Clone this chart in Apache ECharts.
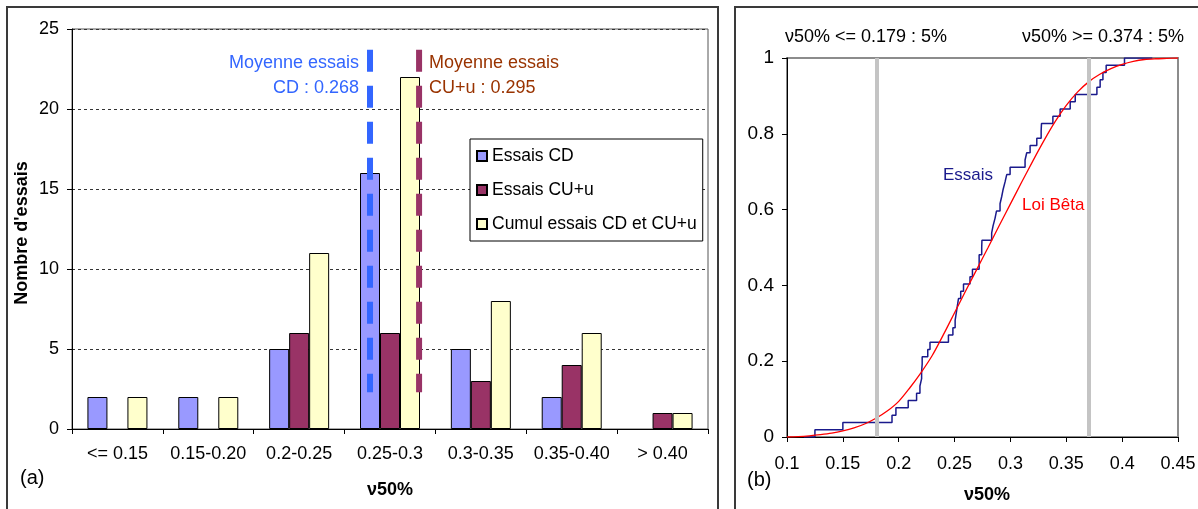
<!DOCTYPE html>
<html><head><meta charset="utf-8">
<script src="https://cdn.jsdelivr.net/npm/echarts@6/dist/echarts.min.js"></script>
<style>html,body{margin:0;padding:0;background:#fff}#c{width:1198px;height:509px}</style>
</head><body><div id="c"></div>
<script>
// ---- Panel (a) data ----
const categories = ['<= 0.15','0.15-0.20','0.2-0.25','0.25-0.3','0.3-0.35','0.35-0.40','> 0.40'];
const essaisCD = [2, 2, 5, 16, 5, 2, 0];
const essaisCU = [0, 0, 6, 6, 3, 4, 1];
const cumul = [2, 2, 11, 22, 8, 6, 1];
const meanCD = 0.268;
const meanCU = 0.295;
const meanLineSpan = [23.7, 2.3];
const yTicksA = [0, 5, 10, 15, 20, 25];

// ---- Panel (b) data ----
const essaisValues = [0.125,0.150,0.194,0.1975,0.2085,0.216,0.219,0.2205,0.2205,0.221,0.221,0.226,0.228,
  0.2445,0.2485,0.2505,0.2515,0.2525,0.2535,0.2555,0.258,0.2638,0.266,0.272,0.272,0.2743,0.2745,
  0.2832,0.2845,0.2862,0.2875,0.2907,0.2922,0.2935,0.2952,0.2967,0.2997,0.3131,0.3146,0.3176,
  0.3236,0.3275,0.3278,0.338,0.3445,0.3535,0.358,0.3774,0.3803,0.3828,0.3857,0.4021];
const ecdfStart = 0.115;
const ecdfEnd = 0.427;
const betaX = [0.10,0.11,0.12,0.13,0.14,0.15,0.16,0.17,0.18,0.19,0.20,0.21,0.22,0.23,0.24,0.25,0.26,0.27,0.28,0.29,0.30,0.31,0.32,0.33,0.34,0.35,0.36,0.37,0.38,0.39,0.40,0.41,0.42,0.43,0.44,0.45];
const betaY = [0,0.001,0.003,0.006,0.010,0.016,0.024,0.035,0.050,0.069,0.094,0.130,0.170,0.215,0.270,0.328,0.386,0.443,0.500,0.558,0.615,0.672,0.728,0.782,0.832,0.875,0.910,0.937,0.957,0.972,0.983,0.991,0.996,0.998,0.999,1.0];
const quantiles = [0.179, 0.374];
const quantileLabels = ['ν50% <= 0.179 : 5%', 'ν50% >= 0.374 : 5%'];

const FONT = "'Liberation Sans', Arial, sans-serif";
const N = essaisValues.length;
const ecdf = [[ecdfStart, 0]].concat(essaisValues.map((v, i) => [v, (i + 1) / N])).concat([[ecdfEnd, 1]]);
const beta = betaX.map((x, i) => [x, betaY[i]]);
const nz = a => a.map(v => v === 0 ? '-' : v);

const chart = echarts.init(document.getElementById('c'), null, {renderer: 'canvas'});
const barBase = {type: 'bar', xAxisIndex: 0, yAxisIndex: 0, barWidth: 20, barGap: '0%', z: 2};

chart.setOption({
  animation: false,
  textStyle: {fontFamily: FONT},
  grid: [
    {left: 72, top: 29, width: 636, height: 400, containLabel: false, outerBoundsMode: 'none',
     show: true, borderColor: '#555', borderWidth: 1},
    {left: 787, top: 58, width: 391, height: 379, containLabel: false, outerBoundsMode: 'none',
     show: true, borderColor: '#8c8c8c', borderWidth: 2}
  ],
  legend: {
    data: ['Essais CD', 'Essais CU+u', 'Cumul essais CD et CU+u'],
    orient: 'vertical', left: 470, top: 139,
    backgroundColor: '#fff', borderColor: '#000', borderWidth: 1,
    padding: [8, 6, 8, 6], itemGap: 16, itemWidth: 10, itemHeight: 10, itemTextGap: 7,
    icon: 'rect',
    textStyle: {fontSize: 17.5, lineHeight: 16, color: '#000', fontFamily: FONT}
  },
  xAxis: [
    {type: 'category', gridIndex: 0, data: categories, boundaryGap: true,
     axisLine: {lineStyle: {color: '#000', width: 1}},
     axisTick: {show: true, alignWithLabel: false, length: 5, lineStyle: {color: '#000'}},
     axisLabel: {interval: 0, fontSize: 18, color: '#000', margin: 16, fontFamily: FONT}},
    {type: 'value', gridIndex: 0, min: 0.104, max: 0.454, show: false},
    {type: 'value', gridIndex: 1, min: 0.1, max: 0.45, interval: 0.05,
     axisLine: {onZero: false, lineStyle: {color: '#000', width: 1}},
     axisTick: {show: true, length: 5, lineStyle: {color: '#000'}},
     splitLine: {show: false},
     axisLabel: {fontSize: 18, color: '#000', margin: 18, fontFamily: FONT}}
  ],
  yAxis: [
    {type: 'value', gridIndex: 0, min: 0, max: 25, interval: 5,
     axisLine: {show: true, lineStyle: {color: '#000', width: 1}},
     axisTick: {show: true, length: 5, lineStyle: {color: '#000'}},
     axisLabel: {fontSize: 18, color: '#000', margin: 13, fontFamily: FONT},
     splitLine: {show: true, lineStyle: {color: '#333', type: [3, 3], width: 1}}},
    {type: 'value', gridIndex: 1, min: 0, max: 1, interval: 0.2,
     axisLine: {show: true, onZero: false, lineStyle: {color: '#000', width: 1}},
     axisTick: {show: true, length: 5, lineStyle: {color: '#000'}},
     axisLabel: {fontSize: 19, color: '#000', margin: 13, fontFamily: FONT},
     splitLine: {show: false}}
  ],
  series: [
    Object.assign({}, barBase, {name: 'Essais CD', data: nz(essaisCD), itemStyle: {color: '#9999FF', borderColor: '#000', borderWidth: 1}}),
    Object.assign({}, barBase, {name: 'Essais CU+u', data: nz(essaisCU), itemStyle: {color: '#993366', borderColor: '#000', borderWidth: 1}}),
    Object.assign({}, barBase, {name: 'Cumul essais CD et CU+u', data: nz(cumul), itemStyle: {color: '#FFFFCC', borderColor: '#000', borderWidth: 1}}),
    {type: 'line', name: 'meanCD', xAxisIndex: 1, yAxisIndex: 0, z: 5, symbol: 'none', silent: true,
     data: meanLineSpan.map(y => [meanCD, y]),
     lineStyle: {color: '#3366FF', width: 6, type: [22, 14]}},
    {type: 'line', name: 'meanCU', xAxisIndex: 1, yAxisIndex: 0, z: 5, symbol: 'none', silent: true,
     data: meanLineSpan.map(y => [meanCU, y]),
     lineStyle: {color: '#993366', width: 6, type: [22, 14]}},
    {type: 'line', name: 'Essais', xAxisIndex: 2, yAxisIndex: 1, z: 2, symbol: 'none', step: 'end',
     data: ecdf, lineStyle: {color: '#1a1a8c', width: 1.5}},
    {type: 'line', name: 'quantiles', xAxisIndex: 2, yAxisIndex: 1, z: 3, symbol: 'none', data: [],
     markLine: {silent: true, symbol: ['none', 'none'], label: {show: false},
       lineStyle: {color: '#C4C4C4', width: 4, type: 'solid'},
       data: quantiles.map(q => ({xAxis: q}))}},
    {type: 'line', name: 'Loi Bêta', xAxisIndex: 2, yAxisIndex: 1, z: 4, symbol: 'none', smooth: 0.3,
     data: beta, lineStyle: {color: '#FF0000', width: 1.3}}
  ],
  graphic: [
    {type: 'rect', shape: {x: 7, y: 7, width: 711, height: 520}, style: {fill: 'none', stroke: '#3a3a3a', lineWidth: 2}, z: 0},
    {type: 'rect', shape: {x: 735, y: 7, width: 480, height: 520}, style: {fill: 'none', stroke: '#3a3a3a', lineWidth: 2}, z: 0},
    {type: 'text', x: 22, y: 233, rotation: Math.PI / 2, z: 10, style: {text: "Nombre d'essais", align: 'center', verticalAlign: 'middle', font: "bold 18px " + FONT, fill: '#000'}},
    {type: 'text', x: 359, y: 51, z: 10, style: {text: 'Moyenne essais\nCD : ' + meanCD, align: 'right', verticalAlign: 'top', lineHeight: 25, font: "18px " + FONT, fill: '#3366FF'}},
    {type: 'text', x: 429, y: 51, z: 10, style: {text: 'Moyenne essais\nCU+u : ' + meanCU, align: 'left', verticalAlign: 'top', lineHeight: 25, font: "18px " + FONT, fill: '#993300'}},
    {type: 'text', x: 20, y: 478, z: 10, style: {text: '(a)', verticalAlign: 'middle', font: "20px " + FONT, fill: '#000'}},
    {type: 'text', x: 747, y: 480, z: 10, style: {text: '(b)', verticalAlign: 'middle', font: "20px " + FONT, fill: '#000'}},
    {type: 'text', x: 390, y: 490, z: 10, style: {text: 'ν50%', align: 'center', verticalAlign: 'middle', font: "bold 18px " + FONT, fill: '#000'}},
    {type: 'text', x: 987, y: 495, z: 10, style: {text: 'ν50%', align: 'center', verticalAlign: 'middle', font: "bold 18px " + FONT, fill: '#000'}},
    {type: 'text', x: 785, y: 37, z: 10, style: {text: quantileLabels[0], align: 'left', verticalAlign: 'middle', font: "18px " + FONT, fill: '#000'}},
    {type: 'text', x: 1184, y: 37, z: 10, style: {text: quantileLabels[1], align: 'right', verticalAlign: 'middle', font: "18px " + FONT, fill: '#000'}},
    {type: 'text', x: 943, y: 175, z: 10, style: {text: 'Essais', align: 'left', verticalAlign: 'middle', font: "17px " + FONT, fill: '#1a1a8c'}},
    {type: 'text', x: 1022, y: 205, z: 10, style: {text: 'Loi Bêta', align: 'left', verticalAlign: 'middle', font: "17px " + FONT, fill: '#FF0000'}}
  ]
});
</script>
</body></html>
